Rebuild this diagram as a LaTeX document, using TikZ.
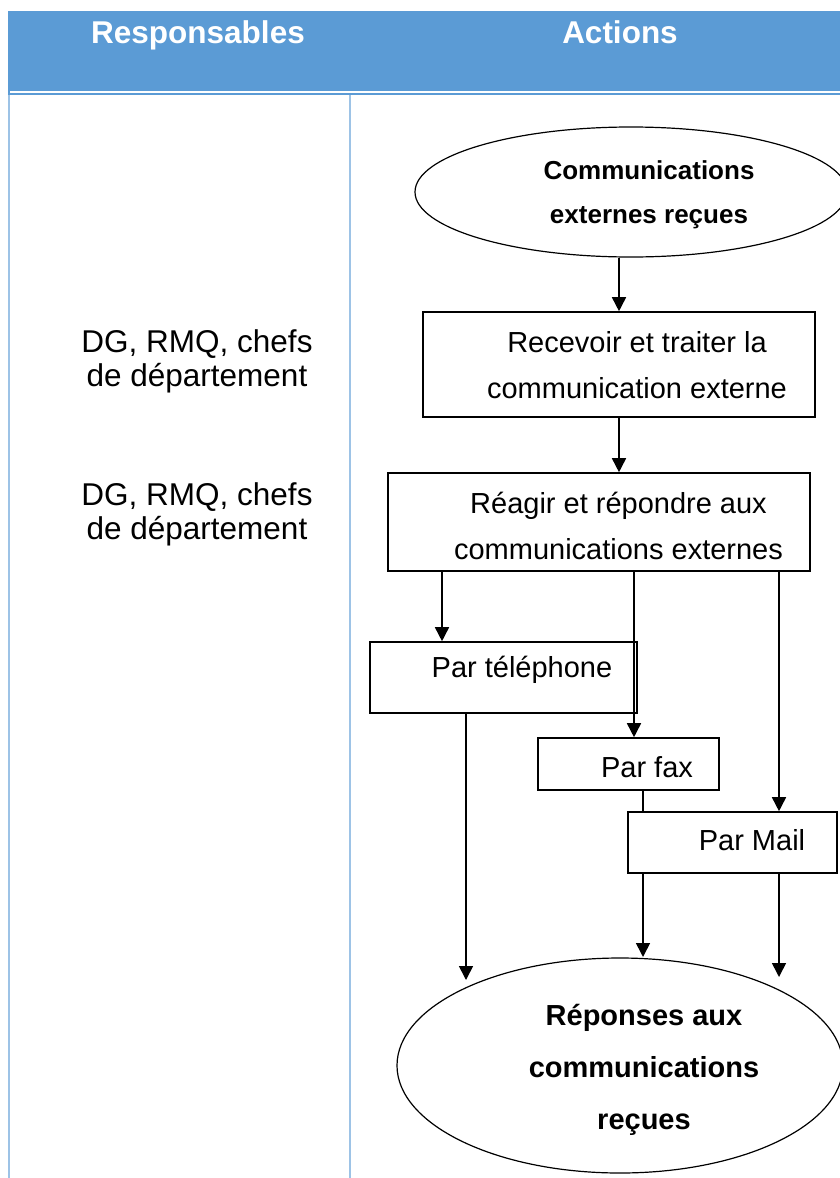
\documentclass[tikz,border=0pt]{standalone}
\usepackage{fontspec}
\setmainfont{Liberation Sans}
\usetikzlibrary{shapes.geometric,arrows.meta}
\definecolor{hdrblue}{HTML}{5B9BD5}
\definecolor{colline}{HTML}{9DC3E6}
\tikzset{
  boxnode/.style={draw=black,line width=1.6pt,rectangle,inner sep=0pt},
  ellnode/.style={draw=black,line width=1.2pt,ellipse,inner sep=0pt},
  txt/.style={align=center,inner sep=0pt,font=\fontsize{29}{46.5}\selectfont},
  btxt/.style={align=center,inner sep=0pt,font=\bfseries\fontsize{26}{44}\selectfont},
  lefttxt/.style={align=center,inner sep=0pt,font=\fontsize{31.5}{34}\selectfont},
  hdrtxt/.style={inner sep=0pt,anchor=base,text=white,font=\bfseries\fontsize{31.5}{36}\selectfont},
  arr/.style={line width=1.6pt,-{Triangle[length=14pt,width=14pt]}},
  ln/.style={line width=1.6pt}
}
\begin{document}
\begin{tikzpicture}[x=1pt,y=-1pt]
\useasboundingbox (0,0) rectangle (840,1178);
% header
\fill[hdrblue] (8,11) rectangle (840,95);
\draw[white,line width=1.2pt] (10,92) -- (840,92);
\node[hdrtxt] (h1) at (198,43) {Responsables};
\node[hdrtxt] (h2) at (620,43) {Actions};
% column lines
\draw[colline,line width=2pt] (9,95) -- (9,1178);
\draw[colline,line width=2pt] (350,95) -- (350,1178);
% left texts
\node[lefttxt] (r1) at (197,361) {DG, RMQ, chefs\\de département};
\node[lefttxt] (r2) at (197,514) {DG, RMQ, chefs\\de département};
% shapes
\node[ellnode,minimum width=432pt,minimum height=130pt] (e1) at (631,192) {};
\node[btxt] (e1t) at (649,195) {Communications\\externes reçues};
\node[boxnode,minimum width=392pt,minimum height=105pt] (b1) at (619,364.5) {};
\node[txt] (b1t) at (637,365) {Recevoir et traiter la\\communication externe};
\node[boxnode,minimum width=422pt,minimum height=98pt] (b2) at (599,522) {};
\node[txt] (b2t) at (618.5,526) {Réagir et répondre aux\\communications externes};
\node[boxnode,minimum width=267pt,minimum height=71pt] (tel) at (503.5,677.5) {};
\node[txt] (telt) at (522,670) {Par téléphone};
\node[boxnode,minimum width=181pt,minimum height=52pt] (fax) at (628.5,764) {};
\node[txt] (faxt) at (647,767) {Par fax};
\node[boxnode,minimum width=209pt,minimum height=61pt] (mail) at (732.5,842.5) {};
\node[txt] (mailt) at (752,840) {Par Mail};
\node[ellnode,minimum width=446pt,minimum height=215pt] (e2) at (620,1065.5) {};
\node[btxt,font=\bfseries\fontsize{29}{52}\selectfont] (e2t) at (644,1070) {Réponses aux\\communications\\reçues};
% end points on the final ellipse
\coordinate (p1) at (466,980);
\coordinate (p2) at (643,957);
\coordinate (p3) at (779,977);
% connectors
\draw[arr] (e1.south -| 619,0) -- (b1.north -| 619,0);
\draw[arr] (b1.south -| 619,0) -- (b2.north -| 619,0);
\draw[arr] (b2.south -| 442,0) -- (tel.north -| 442,0);
\draw[arr] (b2.south -| 634,0) -- (fax.north -| 634,0);
\draw[arr] (b2.south -| 779,0) -- (mail.north -| 779,0);
\draw[ln] (fax.south -| 643,0) -- (mail.north -| 643,0);
\draw[arr] (tel.south -| 466,0) -- (p1);
\draw[arr] (mail.south -| 643,0) -- (p2);
\draw[arr] (mail.south -| 779,0) -- (p3);
\end{tikzpicture}
\end{document}
